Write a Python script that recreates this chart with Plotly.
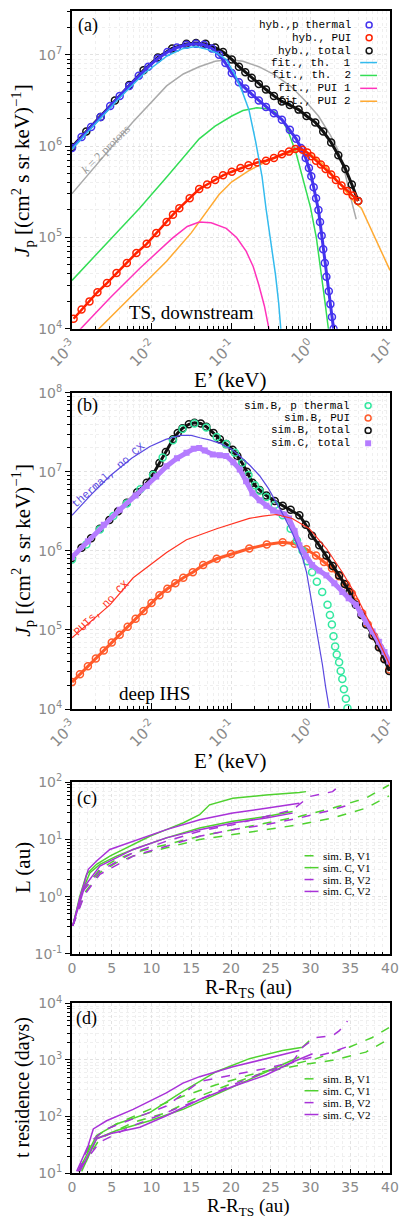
import plotly.graph_objects as go

# ---------------- DATA ----------------
# Panel (a): TS, downstream  (log10 E [keV], log10 J)
a_th_logE = [-3.0,-2.88,-2.76,-2.64,-2.52,-2.40,-2.28,-2.16,-2.04,-1.92,-1.80,-1.68,-1.56,-1.44,-1.34,-1.24,-1.15,-1.07,-0.99,-0.90,
             -0.82,-0.74,-0.65,-0.56,-0.46,-0.36,-0.26,-0.18,-0.12,-0.06,-0.02,0.01,0.04,0.07,0.10,0.12,0.14,0.16,0.18,0.20,0.23,0.25,0.27,0.29]
a_th_logJ = [5.98,6.10,6.21,6.32,6.44,6.55,6.66,6.77,6.87,6.96,7.03,7.08,7.11,7.12,7.11,7.07,7.00,6.91,6.80,6.70,
             6.63,6.57,6.50,6.43,6.36,6.29,6.18,6.08,5.98,5.87,5.76,5.67,5.55,5.43,5.30,5.17,5.02,4.87,4.72,4.57,4.41,4.27,4.13,4.00]
a_tot_logE = [-3.0,-2.82,-2.64,-2.46,-2.28,-2.10,-1.92,-1.74,-1.56,-1.44,-1.32,-1.20,-1.10,-0.99,-0.90,-0.82,-0.74,-0.65,-0.56,-0.46,
              -0.36,-0.26,-0.15,-0.05,0.06,0.16,0.26,0.35,0.44,0.52,0.60]
a_tot_logJ = [5.99,6.16,6.32,6.50,6.67,6.83,6.97,7.07,7.12,7.13,7.12,7.08,7.03,6.95,6.87,6.81,6.75,6.68,6.62,6.55,
              6.49,6.45,6.40,6.33,6.26,6.16,6.04,5.90,5.75,5.58,5.40]
a_pui_logE = [-2.98,-2.88,-2.78,-2.68,-2.56,-2.44,-2.31,-2.19,-2.06,-1.94,-1.81,-1.73,-1.65,-1.52,-1.40,-1.30,-1.20,-1.10,-0.99,-0.88,
              -0.78,-0.67,-0.56,-0.46,-0.36,-0.27,-0.19,-0.10,-0.04,0.01,0.07,0.13,0.19,0.26,0.32,0.39,0.46,0.53,0.60]
a_pui_logJ = [4.11,4.21,4.30,4.40,4.50,4.61,4.72,4.83,4.93,5.05,5.17,5.25,5.32,5.43,5.53,5.58,5.63,5.68,5.72,5.76,
              5.79,5.82,5.84,5.87,5.91,5.94,5.97,5.96,5.93,5.89,5.84,5.80,5.75,5.69,5.63,5.57,5.51,5.46,5.40]
a_fth1_logE = [-3.0,-2.7,-2.4,-2.1,-1.8,-1.6,-1.44,-1.3,-1.18,-1.06,-0.95,-0.86,-0.775,-0.69,-0.61,-0.56,-0.50,-0.44,-0.40,-0.375,-0.36]
a_fth1_logJ = [5.97,6.25,6.53,6.79,6.99,7.07,7.09,7.06,7.02,6.95,6.78,6.60,6.40,6.05,5.67,5.32,4.95,4.59,4.28,4.0,3.85]
a_fth2_logE = [-3.0,-2.6,-2.15,-1.8,-1.4,-1.2,-0.99,-0.85,-0.675,-0.55,-0.44,-0.35,-0.275,-0.18,-0.09,0.0,0.075,0.13,0.175,0.225,0.25]
a_fth2_logJ = [4.53,4.90,5.32,5.67,6.08,6.22,6.33,6.39,6.42,6.41,6.37,6.28,6.15,5.92,5.64,5.33,4.99,4.65,4.34,4.0,3.85]
a_fpui1_logE = [-3.0,-2.86,-2.52,-2.15,-1.74,-1.55,-1.4,-1.25,-1.06,-0.93,-0.81,-0.72,-0.65,-0.58,-0.525,-0.50]
a_fpui1_logJ = [3.90,4.03,4.34,4.66,4.99,5.12,5.17,5.16,5.10,5.0,4.85,4.68,4.48,4.25,4.01,3.9]
a_fpui2_logE = [-2.8,-2.65,-2.24,-1.81,-1.5,-1.31,-1.15,-0.99,-0.78,-0.56,-0.35,-0.15,0.02,0.19,0.32,0.44,0.56,0.64,0.76,0.87,1.0]
a_fpui2_logJ = [3.88,4.01,4.37,4.74,5.05,5.28,5.47,5.61,5.73,5.83,5.91,5.95,5.90,5.78,5.64,5.51,5.38,5.32,5.09,4.88,4.64]
a_k2_logE = [-3.0,-2.62,-2.24,-1.81,-1.6,-1.4,-1.2,-1.03,-0.85,-0.65,-0.45,-0.24,-0.05,0.1,0.25,0.35,0.43,0.51,0.575]
a_k2_logJ = [5.48,5.87,6.26,6.66,6.79,6.87,6.93,6.95,6.93,6.87,6.78,6.65,6.48,6.33,6.12,5.95,5.72,5.42,5.2]

# Panel (b): deep IHS
b_tot_logE = [-3.0,-2.88,-2.76,-2.65,-2.53,-2.42,-2.31,-2.18,-2.06,-1.98,-1.90,-1.82,-1.73,-1.67,-1.61,-1.53,-1.46,-1.38,-1.31,-1.22,
              -1.14,-1.06,-0.98,-0.92,-0.86,-0.80,-0.73,-0.64,-0.555,-0.45,-0.35,-0.25,-0.14,-0.06,0.02,0.11,0.20,0.28,0.36,0.43,
              0.49,0.57,0.64,0.70,0.78,0.86,0.93,0.99]
b_tot_logJ = [5.91,6.04,6.16,6.28,6.39,6.50,6.61,6.74,6.86,6.97,7.11,7.25,7.41,7.49,7.55,7.60,7.62,7.61,7.57,7.49,
              7.41,7.35,7.28,7.20,7.11,7.00,6.86,6.77,6.70,6.63,6.57,6.52,6.45,6.33,6.19,6.07,5.94,5.81,5.69,5.58,
              5.48,5.32,5.19,5.07,4.93,4.78,4.63,4.48]
b_th_logE = [-3.0,-2.82,-2.65,-2.48,-2.31,-2.14,-1.98,-1.86,-1.73,-1.61,-1.46,-1.31,-1.18,-1.06,-0.95,-0.86,-0.78,-0.70,-0.64,-0.555,
             -0.45,-0.35,-0.25,-0.17,-0.10,-0.04,0.02,0.08,0.147,0.214,0.244,0.269,0.289,0.31,0.33,0.36,0.38,0.40,0.42,0.445,0.465]
b_th_logJ = [5.89,6.08,6.27,6.44,6.60,6.78,6.96,7.18,7.40,7.54,7.61,7.56,7.44,7.35,7.24,7.11,6.96,6.83,6.76,6.68,
             6.58,6.45,6.28,6.13,6.00,5.87,5.73,5.61,5.48,5.32,5.19,5.07,4.92,4.79,4.69,4.59,4.48,4.38,4.25,4.13,4.01]
b_pui_logE = [-3.0,-2.9,-2.8,-2.7,-2.6,-2.5,-2.4,-2.3,-2.2,-2.1,-2.0,-1.9,-1.8,-1.7,-1.6,-1.48,-1.35,-1.18,-1.0,-0.77,
              -0.55,-0.35,-0.2,-0.05,0.07,0.17,0.27,0.36,0.45,0.52,0.57,0.65,0.72,0.80,0.87,0.93,0.99]
b_pui_logJ = [4.34,4.44,4.54,4.64,4.74,4.84,4.94,5.04,5.14,5.24,5.34,5.44,5.52,5.59,5.66,5.73,5.82,5.90,5.96,6.03,
              6.08,6.11,6.09,6.02,5.94,5.86,5.78,5.68,5.57,5.46,5.35,5.21,5.07,4.92,4.78,4.64,4.50]
b_simC_logE = [-3.0,-2.8,-2.6,-2.4,-2.2,-2.06,-1.94,-1.81,-1.68,-1.56,-1.47,-1.40,-1.33,-1.23,-1.14,-1.06,-0.97,-0.89,-0.81,-0.73,
               -0.64,-0.555,-0.47,-0.39,-0.33,-0.27,-0.20,-0.14,-0.06,0.02,0.11,0.20,0.30,0.40,0.48,0.57,0.63,0.70,0.78,0.86,0.93,0.99]
b_simC_logJ = [5.92,6.12,6.33,6.52,6.70,6.82,6.94,7.07,7.17,7.24,7.29,7.30,7.27,7.22,7.21,7.20,7.12,7.03,6.88,6.73,
               6.64,6.57,6.51,6.48,6.46,6.41,6.25,6.07,5.93,5.82,5.75,5.69,5.59,5.48,5.40,5.32,5.21,5.10,4.98,4.85,4.72,4.60]
b_thnocx_logE = [-3.0,-2.75,-2.52,-2.25,-2.02,-1.82,-1.64,-1.5,-1.39,-1.26,-1.14,-1.0,-0.89,-0.76,-0.64,-0.53,-0.43,-0.33,-0.23,-0.16,
                 -0.10,-0.05,-0.015,0.03,0.07,0.11,0.15,0.19,0.235]
b_thnocx_logJ = [6.45,6.72,6.95,7.17,7.32,7.41,7.46,7.46,7.43,7.40,7.36,7.29,7.20,7.08,6.95,6.79,6.61,6.43,6.23,6.07,
                 5.91,5.73,5.53,5.30,5.07,4.81,4.56,4.28,4.01]
b_puinocx_logE = [-3.0,-2.76,-2.52,-2.23,-2.0,-1.81,-1.56,-1.18,-0.77,-0.6,-0.43,-0.23,-0.015,0.2,0.40,0.57,0.70,0.85,1.0]
b_puinocx_logJ = [4.90,5.11,5.32,5.66,5.84,5.98,6.14,6.28,6.41,6.44,6.46,6.41,6.28,6.03,5.73,5.44,5.18,4.88,4.55]

# Panel (c): L (au) vs R-R_TS (au)
c_gs1_x = [0.1,1.0,1.84,3.09,4.76,7.69,9.78,11.87,13.96,16.05,17.3,20.23,24.41,28.59,29.43]
c_gs1_L = [0.31,1.04,2.47,3.69,5.14,8.2,11.4,14.9,19.5,27.2,40.5,52.8,60.3,66.2,68.9]
c_gs2_x = [0.1,1.21,2.26,3.51,5.60,7.69,11.87,16.05,20.23,24.41,27.75]
c_gs2_L = [0.31,1.19,2.64,3.69,5.14,6.71,10.7,15.9,20.8,25.4,31.0]
c_ps1_x = [0.1,1.0,2.05,3.09,4.76,7.69,11.87,16.05,20.23,24.41,28.59]
c_ps1_L = [0.31,0.97,3.02,4.21,6.71,9.35,14.9,22.2,29.0,35.4,43.3]
c_ps2_x = [0.1,1.63,3.51,5.60,7.69,11.87,16.05,20.23,24.41,27.75]
c_ps2_L = [0.31,1.55,3.45,4.81,6.71,10.7,14.9,19.5,23.8,29.0]
c_gd1_x = [0.1,1.42,3.51,5.60,7.69,11.87,16.05,20.23,24.41,28.59,32.77,36.95,39.87]
c_gd1_L = [0.31,1.36,3.02,4.50,5.87,8.18,11.4,14.9,19.5,25.4,35.4,52.8,89.9]
c_gd2_x = [0.1,1.63,3.51,5.60,7.69,11.87,16.05,20.23,24.41,28.59,32.77,36.95,39.87]
c_gd2_L = [0.31,1.19,2.64,3.94,5.14,7.16,10.0,12.2,14.9,18.2,23.8,35.4,57.9]
c_pd1_x = [0.1,1.42,3.51,7.69,11.87,16.05,20.23,24.41,27.75,29.84,32.77,34.02]
c_pd1_L = [0.31,1.27,2.83,5.87,9.35,14.0,18.2,25.4,33.1,56.4,68.9,96.2]
c_pd2_x = [0.1,1.63,3.51,7.69,11.87,16.05,20.23,24.41,28.59,32.77,34.86]
c_pd2_L = [0.31,1.11,2.47,5.14,7.66,11.4,14.9,18.2,23.8,33.1,40.5]

# Panel (d): residence time (days) vs R-R_TS (au)
d_gd1_x = [1.0,2.26,3.51,5.60,9.78,13.96,18.14,22.32,26.50,30.68,34.86,37.78,39.87]
d_gd1_t = [11.4,31.0,49.4,73.6,134,228,364,542,757,1055,1680,2505,3733]
d_gd2_x = [1.42,3.51,7.69,11.87,16.05,20.23,24.41,28.59,32.77,36.95,39.87]
d_gd2_t = [14.0,40.5,78.7,117,228,389,620,809,986,1377,2344]
d_pd1_x = [0.79,2.26,4.35,7.69,11.87,16.05,20.23,24.41,27.75,29.0,30.68,32.77,33.60,34.65]
d_pd1_t = [10.7,35.4,60.3,89.9,153,415,542,708,923,1680,2505,2679,3266,4875]
d_pd2_x = [1.0,3.51,7.69,11.87,16.05,20.23,24.41,28.59,32.77,35.49]
d_pd2_t = [12.2,35.4,68.9,117,200,364,620,986,1377,1919]
d_ps1_x = [0.59,2.05,2.68,4.35,7.69,11.87,13.96,16.05,20.23,24.41,28.59]
d_ps1_t = [10.7,31.0,60.3,84.1,134,261,389,507,757,1055,1472]
d_ps2_x = [1.0,3.09,4.76,8.53,11.87,16.05,20.23,24.41,27.75,30.26]
d_ps2_t = [10.7,40.5,49.4,64.4,103,200,340,542,923,1288]
d_gs1_x = [0.79,3.09,5.60,9.78,13.96,18.14,22.32,26.50,29.0,29.84]
d_gs1_t = [10.7,46.2,73.6,117,279,620,1055,1472,1680,2193]
d_gs2_x = [1.21,3.09,5.60,9.78,13.96,18.14,22.32,26.50,28.59]
d_gs2_t = [10.7,40.5,56.4,84.1,134,244,444,809,1127]

legend_a = ["hyb.,p thermal", "hyb., PUI", "hyb., total", "fit., th.\u00a0 1", "fit., th.\u00a0 2", "fit., PUI 1", "fit., PUI 2"]
legend_b = ["sim.B, p thermal", "sim.B, PUI", "sim.B, total", "sim.C, total"]
legend_cd = ["sim. B, V1", "sim. C, V1", "sim. B, V2", "sim. C, V2"]

# ---------------- STYLE / LAYOUT ----------------
W, H = 400, 1219
ML, MR, MT, MB = 72, 8, 1, 44
PW = W - ML - MR
PH = H - MT - MB
SERIF = "Liberation Serif"
MONO = "Liberation Mono"
TICKC = "#8a8a8a"

BLUE = "#4433ee"; RED = "#ff2200"; BLK = "#111111"; CYAN = "#33bbee"
LGREEN = "#33dd55"; PINK = "#ff33bb"; ORANGE = "#ffaa33"; GRAY = "#aaaaaa"
AQUA = "#33e8a0"; TOMATO = "#ff5a2a"; LPURP = "#b57cff"; NBLUE = "#5a48e0"; NRED = "#ff3322"
GREEN = "#4fd12f"; PURP = "#a832d8"


def px(x):
    return (x - ML) / PW


def py(y):
    return (H - MB - y) / PH


def E(v):
    return [10 ** t for t in v]


fig = go.Figure()


def add(x, y, ax, **kw):
    fig.add_trace(go.Scatter(x=x, y=y, xaxis="x" + ax, yaxis="y" + ax,
                             showlegend=False, hoverinfo="skip", **kw))


def line(c, w=1.5, dash="solid"):
    return dict(color=c, width=w, dash=dash)


def circ(c, s=7):
    return dict(symbol="circle-open", size=s, color=c, line=dict(width=1.5, color=c))


# panel (a)
add(E(a_k2_logE), E(a_k2_logJ), "", mode="lines", line=line(GRAY))
add(E(a_fth2_logE), E(a_fth2_logJ), "", mode="lines", line=line(LGREEN))
add(E(a_fpui2_logE), E(a_fpui2_logJ), "", mode="lines", line=line(ORANGE))
add(E(a_fpui1_logE), E(a_fpui1_logJ), "", mode="lines", line=line(PINK))
add(E(a_tot_logE), E(a_tot_logJ), "", mode="lines+markers", line=line(BLK, 3), marker=circ(BLK))
add(E(a_th_logE), E(a_th_logJ), "", mode="lines+markers", line=line(BLUE, 3), marker=circ(BLUE))
add(E(a_pui_logE), E(a_pui_logJ), "", mode="lines+markers", line=line(RED, 2.5), marker=circ(RED))
add(E(a_fth1_logE), E(a_fth1_logJ), "", mode="lines", line=line(CYAN))

# panel (b)
add(E(b_pui_logE), E(b_pui_logJ), "2", mode="lines+markers", line=line(TOMATO, 3), marker=circ(TOMATO))
add(E(b_tot_logE), E(b_tot_logJ), "2", mode="lines+markers", line=line(BLK, 3), marker=circ(BLK))
add(E(b_th_logE), E(b_th_logJ), "2", mode="markers", marker=circ(AQUA))
add(E(b_simC_logE), E(b_simC_logJ), "2", mode="lines+markers", line=line(LPURP, 5),
    marker=dict(symbol="square", size=6, color=LPURP))
add(E(b_thnocx_logE), E(b_thnocx_logJ), "2", mode="lines", line=line(NBLUE, 1.2))
add(E(b_puinocx_logE), E(b_puinocx_logJ), "2", mode="lines", line=line(NRED, 1.2))

# panel (c)
for xs, ys, c, d in [(c_gd1_x, c_gd1_L, GREEN, "dash"), (c_gd2_x, c_gd2_L, GREEN, "dash"),
                     (c_gs1_x, c_gs1_L, GREEN, "solid"), (c_gs2_x, c_gs2_L, GREEN, "solid"),
                     (c_pd1_x, c_pd1_L, PURP, "dash"), (c_pd2_x, c_pd2_L, PURP, "dash"),
                     (c_ps1_x, c_ps1_L, PURP, "solid"), (c_ps2_x, c_ps2_L, PURP, "solid")]:
    add(xs, ys, "3", mode="lines", line=line(c, 1.5, d))

# panel (d)
for xs, ys, c, d in [(d_gd1_x, d_gd1_t, GREEN, "dash"), (d_gd2_x, d_gd2_t, GREEN, "dash"),
                     (d_gs1_x, d_gs1_t, GREEN, "solid"), (d_gs2_x, d_gs2_t, GREEN, "solid"),
                     (d_pd1_x, d_pd1_t, PURP, "dash"), (d_pd2_x, d_pd2_t, PURP, "dash"),
                     (d_ps1_x, d_ps1_t, PURP, "solid"), (d_ps2_x, d_ps2_t, PURP, "solid")]:
    add(xs, ys, "4", mode="lines", line=line(c, 1.5, d))

GRID = dict(showgrid=True, gridcolor="#e2e2e2", griddash="dot", gridwidth=1)
MINOR_LOG_IN = dict(dtick="D1", ticks="inside", ticklen=3, tickcolor="black", showgrid=True,
                    gridcolor="#efefef", griddash="dot")
MINOR_LOG_OUT = dict(dtick="D1", ticks="outside", ticklen=3, tickcolor="black", showgrid=True,
                     gridcolor="#efefef", griddash="dot")


def pow_ticks(lo, hi):
    vals = [10.0 ** k for k in range(lo, hi + 1)]
    txt = ["10<sup>%d</sup>" % k for k in range(lo, hi + 1)]
    return vals, txt


def frame(**kw):
    d = dict(showline=True, linecolor="black", linewidth=2, mirror=True, zeroline=False,
             tickcolor="black", ticklabeloverflow="allow",
             tickfont=dict(family="DejaVu Sans", size=14, color=TICKC))
    d.update(GRID)
    d.update(kw)
    return d


def logx(anchor):
    v, t = pow_ticks(-3, 1)
    return frame(type="log", range=[-3, 1], tickvals=v, ticktext=t, tickangle=-45,
                 ticks="inside", ticklen=6, minor=MINOR_LOG_IN, anchor=anchor,
                 tickfont=dict(family="DejaVu Sans", size=15, color=TICKC))


def logy(rng, lo, hi, dom, anchor):
    v, t = pow_ticks(lo, hi)
    return frame(type="log", range=rng, tickvals=v, ticktext=t, ticks="outside",
                 ticklen=5, domain=dom, anchor=anchor, minor=MINOR_LOG_OUT)


def linx(anchor):
    return frame(range=[0, 40], tickvals=[0, 5, 10, 15, 20, 25, 30, 35, 40], ticks="inside",
                 ticklen=4, anchor=anchor,
                 tickfont=dict(family="DejaVu Sans", size=14, color=TICKC),
                 minor=dict(dtick=1, ticks="inside", ticklen=2, tickcolor="black",
                            showgrid=True, gridcolor="#efefef", griddash="dot"))


dom_a = [py(321.5), py(1)]
dom_b = [py(705), py(386)]
dom_c = [py(952), py(779)]
dom_d = [py(1173), py(1002)]

# annotations
ann = []


def text(t, x, y, size, color="black", family=SERIF, angle=0, xanchor="center"):
    ann.append(dict(text=t, x=px(x), y=py(y), xref="paper", yref="paper", showarrow=False,
                    font=dict(size=size, color=color, family=family), textangle=angle,
                    xanchor=xanchor, yanchor="middle"))


shapes = []


def sym_circ(x, y, c, r=3):
    shapes.append(dict(type="circle", xref="paper", yref="paper", x0=px(x - r), x1=px(x + r),
                       y0=py(y + r), y1=py(y - r), line=dict(color=c, width=1.5)))


def sym_sq(x, y, c, r=3):
    shapes.append(dict(type="rect", xref="paper", yref="paper", x0=px(x - r), x1=px(x + r),
                       y0=py(y + r), y1=py(y - r), line=dict(color=c, width=0), fillcolor=c))


def sym_line(x0, x1, y, c, dash="solid"):
    shapes.append(dict(type="line", xref="paper", yref="paper", x0=px(x0), x1=px(x1),
                       y0=py(y), y1=py(y), line=dict(color=c, width=1.5, dash=dash)))


# panel (a) texts
text("(a)", 88, 16, 18)
text("TS, downstream", 192, 305, 19)
text("<i>k</i> = 2 protons", 106, 140, 12, color="#999999", angle=-45)
rows_a = [15, 28, 41, 53, 66, 79, 92]
cols_a = [BLUE, RED, BLK, CYAN, LGREEN, PINK, ORANGE]
for i, (t, r, c) in enumerate(zip(legend_a, rows_a, cols_a)):
    text(t, 355, r, 11, family=MONO, xanchor="right")
    if i < 3:
        sym_circ(371, r, c)
    else:
        sym_line(362, 379, r, c)

# panel (b) texts
text("(b)", 88, 399, 18)
text("deep IHS", 155, 689, 19)
text("thermal, no CX", 109, 469, 11, color=NBLUE, family=MONO, angle=-41)
text("PUIs, no CX", 102, 603, 11, color=NRED, family=MONO, angle=-45)
rows_b = [399, 411.5, 424, 437]
cols_b = [AQUA, TOMATO, BLK, LPURP]
for i, (t, r, c) in enumerate(zip(legend_b, rows_b, cols_b)):
    text(t, 354, r, 11, family=MONO, xanchor="right")
    if i < 3:
        sym_circ(370, r, c)
    else:
        sym_sq(370, r, c)

# panels (c), (d) texts
text("(c)", 87, 795, 18)
text("(d)", 87, 1017, 18)
sty_cd = [(GREEN, "dash"), (GREEN, "solid"), (PURP, "dash"), (PURP, "solid")]
for rows in ([853, 865, 877, 889], [1078, 1090, 1102, 1114]):
    for t, r, (c, d) in zip(legend_cd, rows, sty_cd):
        sym_line(306, 320, r, c, d)
        text(t, 323, r, 11, xanchor="left")

# axis titles
JT = "<i>J</i><sub>p</sub> [(cm<sup>2</sup> s sr keV)<sup>\u22121</sup>]"
text(JT, 22, 162, 21, angle=-90)
text(JT, 22, 545, 21, angle=-90)
text("E\u2019 (keV)", 231, 373, 21)
text("E\u2019 (keV)", 231, 757, 21)
text("L (au)", 22, 865, 21, angle=-90)
text("R-R<sub>TS</sub> (au)", 250, 987, 20)
text("t residence (days)", 22, 1087, 20, angle=-90)
text("R-R<sub>TS</sub> (au)", 250, 1207, 19)

fig.update_layout(
    width=W, height=H, margin=dict(l=ML, r=MR, t=MT, b=MB),
    paper_bgcolor="white", plot_bgcolor="white", showlegend=False,
    xaxis=logx("y"), yaxis=logy([4, 7.48], 4, 7, dom_a, "x"),
    xaxis2=logx("y2"), yaxis2=logy([4, 8], 4, 8, dom_b, "x2"),
    xaxis3=linx("y3"), yaxis3=logy([-1, 2], -1, 2, dom_c, "x3"),
    xaxis4=linx("y4"), yaxis4=logy([1, 4], 1, 4, dom_d, "x4"),
    annotations=ann, shapes=shapes,
)

fig.write_html("out.html")
